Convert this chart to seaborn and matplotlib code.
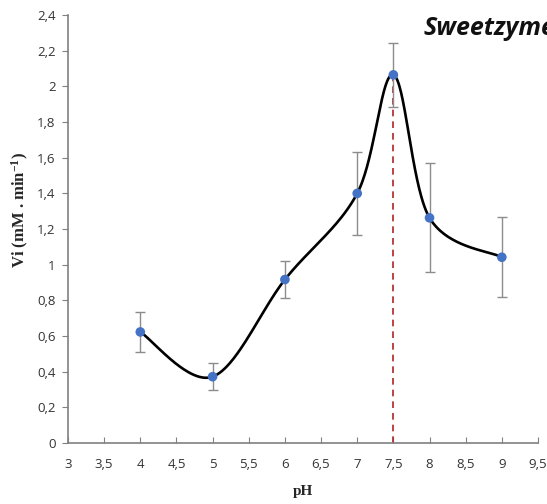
import numpy as np
import pandas as pd
import matplotlib
matplotlib.use("Agg")
import matplotlib.pyplot as plt
import seaborn as sns

# data
ph = [4, 5, 6, 7, 7.5, 8, 9]
vi = [0.623, 0.372, 0.917, 1.40, 2.065, 1.263, 1.042]
err = [0.11, 0.075, 0.105, 0.235, 0.18, 0.305, 0.225]

x_ticks = [3, 3.5, 4, 4.5, 5, 5.5, 6, 6.5, 7, 7.5, 8, 8.5, 9, 9.5]
y_ticks = [0, 0.2, 0.4, 0.6, 0.8, 1, 1.2, 1.4, 1.6, 1.8, 2, 2.2, 2.4]
x_labels = ["3", "3,5", "4", "4,5", "5", "5,5", "6", "6,5", "7", "7,5", "8", "8,5", "9", "9,5"]
y_labels = ["0", "0,2", "0,4", "0,6", "0,8", "1", "1,2", "1,4", "1,6", "1,8", "2", "2,2", "2,4"]
optimum_ph = 7.5

df = pd.DataFrame({"pH": ph, "Vi": vi, "err": err})


def smooth_curve(xs, ys, n=60):
    # Excel-like smoothed line: Catmull-Rom through the points, done in screen-ish units
    sx, sy = 72.3, 178.75
    P = np.column_stack([np.array(xs) * sx, np.array(ys) * sy])
    P = np.vstack([P[0], P, P[-1]])
    out = []
    for i in range(1, len(P) - 2):
        p0, p1, p2, p3 = P[i - 1], P[i], P[i + 1], P[i + 2]
        c1 = p1 + (p2 - p0) / 6
        c2 = p2 - (p3 - p1) / 6
        t = np.linspace(0, 1, n)[:, None]
        seg = (1 - t) ** 3 * p1 + 3 * (1 - t) ** 2 * t * c1 + 3 * (1 - t) * t ** 2 * c2 + t ** 3 * p2
        out.append(seg)
    out = np.vstack(out)
    return out[:, 0] / sx, out[:, 1] / sy


sns.set_style("white")
plt.rcParams["mathtext.fontset"] = "custom"
plt.rcParams["mathtext.rm"] = "Liberation Serif:bold"
plt.rcParams["mathtext.bf"] = "Liberation Serif:bold"
plt.rcParams["mathtext.default"] = "rm"

fig = plt.figure(figsize=(5.47, 5.04), dpi=100)
ax = fig.add_axes([0.1243, 0.121, 0.8592, 0.849])

cx, cy = smooth_curve(ph, vi)
curve = pd.DataFrame({"x": cx, "y": cy})
sns.lineplot(data=curve, x="x", y="y", sort=False, color="black", linewidth=1.9, ax=ax, zorder=3)

ax.errorbar(df["pH"], df["Vi"], yerr=df["err"], fmt="none", ecolor="#8c8c8c",
            elinewidth=1.0, capsize=3.5, capthick=1.0, zorder=2)
sns.scatterplot(data=df, x="pH", y="Vi", color="#4472C4", s=48, edgecolor="none", ax=ax, zorder=4)

ax.vlines(optimum_ph, 0, vi[ph.index(optimum_ph)], colors="#B22222", linestyles=(0, (4, 3)),
          linewidth=1.2, zorder=1)

ax.set_xlim(3, 9.5)
ax.set_ylim(0, 2.4)
ax.set_xticks(x_ticks)
ax.set_xticklabels(x_labels)
ax.set_yticks(y_ticks)
ax.set_yticklabels(y_labels)

for side in ["top", "right"]:
    ax.spines[side].set_visible(False)
for side in ["left", "bottom"]:
    ax.spines[side].set_color("#808080")
    ax.spines[side].set_linewidth(1.2)

ax.tick_params(axis="x", direction="in", length=4, color="#808080", labelsize=9.5,
               labelcolor="#333333", pad=11, bottom=True)
ax.tick_params(axis="y", direction="out", length=4, color="#808080", labelsize=9.5,
               labelcolor="#333333", pad=5, left=True)
for lab in ax.get_xticklabels() + ax.get_yticklabels():
    lab.set_family("Open Sans")

ax.set_xlabel("pH", family="Liberation Serif", fontweight="bold", fontsize=11)
ax.xaxis.set_label_coords(0.5, -0.098)
ax.set_ylabel("Vi (mM . min$^{-1}$)", family="Liberation Serif", fontweight="bold", fontsize=12)
ax.yaxis.set_label_coords(-0.078, 0.545)

# the reference crops this title at the right edge of the figure
fig.text(0.774, 0.944, "Sweetzyme", family="Open Sans", fontweight="bold", fontstyle="italic",
         fontsize=18, ha="left", va="center", color="#111111")

fig.savefig("out.png", dpi=100)
